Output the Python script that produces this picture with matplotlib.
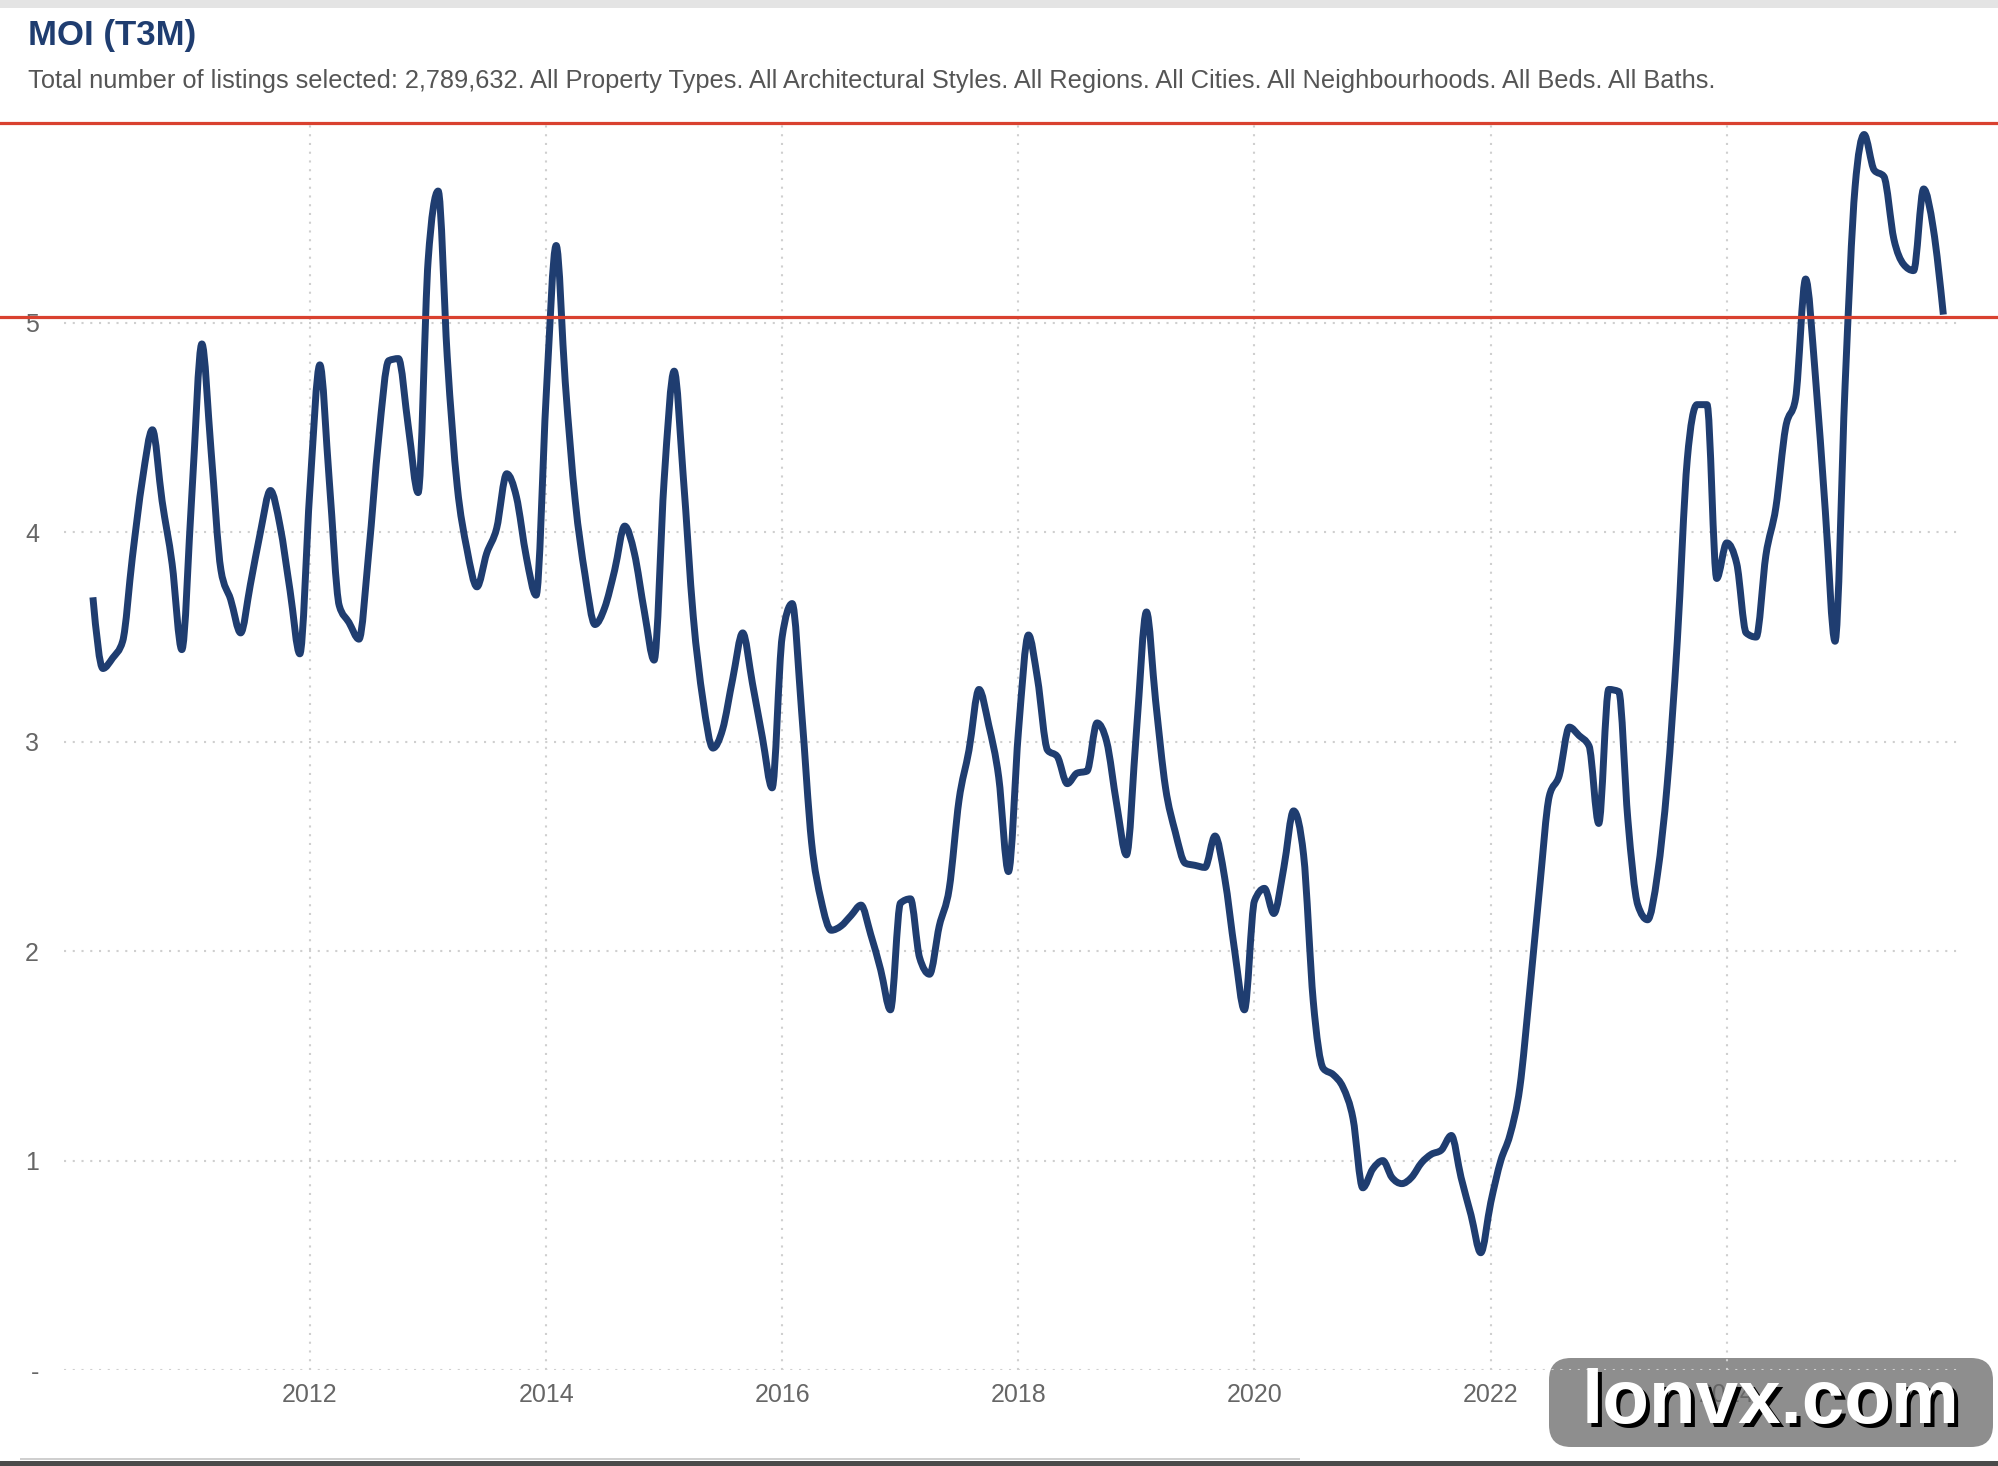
import matplotlib
matplotlib.use("Agg")
import matplotlib.pyplot as plt
import matplotlib.dates as mdates
from matplotlib.patches import FancyBboxPatch, Rectangle, PathPatch
from matplotlib.path import Path
from matplotlib.transforms import IdentityTransform
import numpy as np
import pandas as pd

# ---------------- data (monthly MOI, trailing 3 months) ----------------
start_month = "2010-03-01"
moi = [
    3.69, 3.35, 3.40, 3.48, 3.88, 4.25, 4.49, 4.15, 3.85, 3.44,
    4.18, 4.90, 4.40, 3.82, 3.68, 3.52, 3.75, 4.00, 4.20, 4.03,
    3.72, 3.42, 4.20, 4.80, 4.25, 3.65, 3.57, 3.49, 3.90, 4.45,
    4.82, 4.83, 4.50, 4.19, 5.30, 5.63, 4.84, 4.22, 3.92, 3.74,
    3.90, 4.02, 4.28, 4.17, 3.88, 3.70, 4.65, 5.37, 4.72, 4.15,
    3.80, 3.56, 3.64, 3.82, 4.03, 3.90, 3.62, 3.39, 4.25, 4.77,
    4.27, 3.60, 3.20, 2.97, 3.06, 3.30, 3.52, 3.28, 3.02, 2.78,
    3.50, 3.66, 3.15, 2.52, 2.24, 2.10, 2.12, 2.17, 2.22, 2.08,
    1.91, 1.72, 2.23, 2.25, 1.97, 1.89, 2.12, 2.30, 2.72, 2.96,
    3.25, 3.08, 2.83, 2.38, 3.05, 3.51, 3.30, 2.96, 2.93, 2.80,
    2.85, 2.86, 3.09, 3.00, 2.70, 2.46, 3.05, 3.62, 3.20, 2.78,
    2.57, 2.42, 2.41, 2.40, 2.55, 2.35, 2.00, 1.72, 2.24, 2.30,
    2.18, 2.40, 2.67, 2.46, 1.76, 1.44, 1.41, 1.35, 1.20, 0.87,
    0.96, 1.00, 0.92, 0.89, 0.92, 0.99, 1.03, 1.05, 1.12, 0.92,
    0.74, 0.56, 0.80, 1.00, 1.12, 1.35, 1.80, 2.30, 2.74, 2.84,
    3.07, 3.03, 2.98, 2.61, 3.25, 3.24, 2.63, 2.22, 2.15, 2.37,
    2.80, 3.48, 4.35, 4.61, 4.61, 3.78, 3.95, 3.85, 3.52, 3.50,
    3.89, 4.12, 4.50, 4.64, 5.21, 4.75, 4.10, 3.48, 4.70, 5.65,
    5.90, 5.73, 5.70, 5.40, 5.28, 5.25, 5.64, 5.45, 5.04,
]
y_ticks = [0, 1, 2, 3, 4, 5]
y_tick_labels = ["-", "1", "2", "3", "4", "5"]
x_tick_years = [2012, 2014, 2016, 2018, 2020, 2022, 2024]
ref_lines = [5.03, 5.955]

title = "MOI (T3M)"
subtitle = ("Total number of listings selected: 2,789,632. All Property Types. "
            "All Architectural Styles. All Regions. All Cities. All Neighbourhoods. "
            "All Beds. All Baths.")
watermark = "lonvx.com"

# ---------------- figure ----------------
W, H = 1999, 1466
fig = plt.figure(figsize=(W / 100, H / 100), dpi=100, facecolor="white")
plt.rcParams["font.family"] = ["Liberation Sans", "DejaVu Sans"]

ax_left, ax_right = 64, 1957
ax_top, ax_bottom = 123, 1370
ax = fig.add_axes([ax_left / W, (H - ax_bottom) / H,
                   (ax_right - ax_left) / W, (ax_bottom - ax_top) / H])
ax.set_facecolor("none")

# monotone-cubic shaped line through the monthly data points
dates = pd.date_range(start_month, periods=len(moi), freq="MS")
xs = mdates.date2num(dates)
ys = np.asarray(moi, dtype=float)
n = len(xs)
h = np.diff(xs)
sl = np.diff(ys) / h
t = np.zeros(n)
for i in range(1, n - 1):
    s0, s1 = sl[i - 1], sl[i]
    p = (s0 * h[i] + s1 * h[i - 1]) / (h[i - 1] + h[i])
    t[i] = (np.sign(s0) + np.sign(s1)) * min(abs(s0), abs(s1), 0.5 * abs(p))
t[0] = (3 * sl[0] - t[1]) / 2
t[-1] = (3 * sl[-1] - t[-2]) / 2
verts = [(xs[0], ys[0])]
codes = [Path.MOVETO]
for i in range(n - 1):
    dx = h[i] / 3.0
    verts += [(xs[i] + dx, ys[i] + dx * t[i]),
              (xs[i + 1] - dx, ys[i + 1] - dx * t[i + 1]),
              (xs[i + 1], ys[i + 1])]
    codes += [Path.CURVE4] * 3
ax.add_patch(PathPatch(Path(verts, codes), facecolor="none", edgecolor="#1f3d70",
                       lw=5.0, joinstyle="round", capstyle="butt", zorder=3))

# axis limits
d2012 = mdates.date2num(pd.Timestamp("2012-01-01"))
year_days = 365.25
ax.set_xlim(d2012 - 2.082 * year_days, d2012 + 13.95 * year_days)
ax.set_ylim(0, 5.955)

ax.set_yticks(y_ticks)
ax.set_yticklabels(y_tick_labels)
ax.set_xticks([mdates.date2num(pd.Timestamp(f"{y}-01-01")) for y in x_tick_years])
ax.set_xticklabels([str(y) for y in x_tick_years])

for s in ax.spines.values():
    s.set_visible(False)
ax.tick_params(axis="both", length=0, labelsize=18, labelcolor="#666666")
ax.tick_params(axis="y", pad=18)
ax.tick_params(axis="x", pad=9)
ax.grid(True, color="#cfcfcf", lw=1.5, linestyle=(0, (1, 3.2)), zorder=0)

# red reference lines spanning the full width of the picture
for v in ref_lines:
    ax.axhline(v, xmin=-0.05, xmax=1.1, color="#d9412f", lw=2.3,
               clip_on=False, zorder=4)

# ---------------- titles ----------------
fig.text(28 / W, 1 - 35 / H, title, fontsize=25, fontweight="bold",
         color="#1f3d70", va="center", ha="left")
sub = fig.text(28 / W, 1 - 81 / H, subtitle, fontsize=16, color="#555555",
               va="center", ha="left")
fig.canvas.draw()
r = fig.canvas.get_renderer()
wpx = sub.get_window_extent(r).width
sub.set_fontsize(16 * 1685 / wpx)

# ---------------- page decorations ----------------
fig.patches.append(Rectangle((0, H - 8), W, 8, transform=IdentityTransform(),
                             facecolor="#e4e4e4", edgecolor="none", zorder=-2))
fig.patches.append(Rectangle((0, 0), W, 5, transform=IdentityTransform(),
                             facecolor="#4a4a4a", edgecolor="none", zorder=-2))
fig.patches.append(Rectangle((20, 6), 1280, 2, transform=IdentityTransform(),
                             facecolor="#cfcfcf", edgecolor="none", zorder=-2))

# watermark box (behind the axes so the tick label and grid show through)
box = FancyBboxPatch((1549 + 22, 19 + 22), 444 - 44, 89 - 44,
                     boxstyle="round,pad=22", transform=IdentityTransform(),
                     facecolor="#8e8e8e", edgecolor="none", zorder=-1)
fig.patches.append(box)
cx, cy = 1771, 62
fig.text(cx + 4, cy - 4, watermark, transform=IdentityTransform(), fontsize=55,
         fontweight="bold", color="black", ha="center", va="center", zorder=11)
fig.text(cx, cy, watermark, transform=IdentityTransform(), fontsize=55,
         fontweight="bold", color="white", ha="center", va="center", zorder=12)

fig.savefig("out.png", dpi=100, facecolor="white")
